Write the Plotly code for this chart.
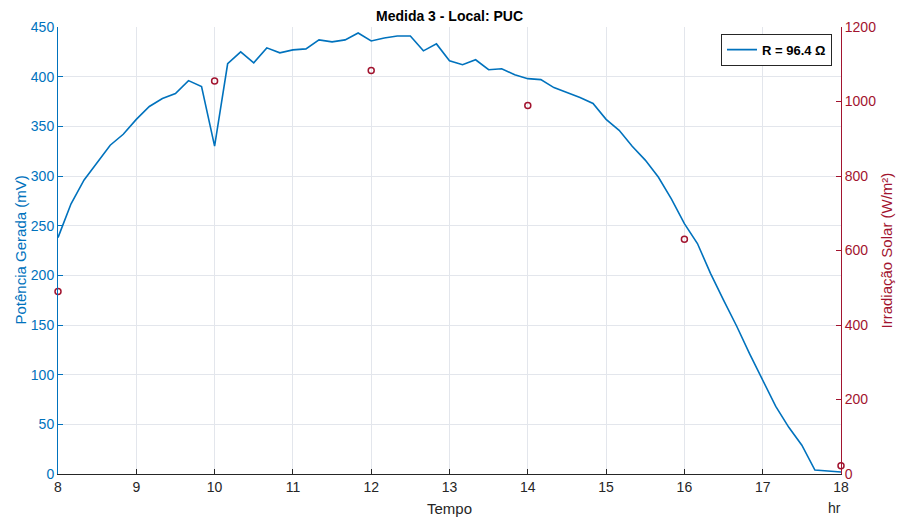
import plotly.graph_objects as go

# Power (mV) sampled every 10 minutes from 8:00 to 18:00
hours = [8 + i / 6 for i in range(61)]
power = [238, 272, 296, 313, 331, 342, 357, 370, 378, 383, 396, 390,
         330, 413, 425, 414, 429, 424, 427, 428, 437, 435, 437, 444,
         436, 439, 441, 441, 426, 433, 416, 412, 417, 407, 408, 402,
         398, 397, 389, 384, 379, 373, 357, 346, 330, 316, 299, 277,
         252, 232, 202, 175, 149, 121, 95, 68, 47, 29, 4, 3, 2]

irr_hours = [8, 10, 12, 14, 16, 18]
irradiance = [490, 1055, 1083, 989, 630, 22]

x_ticks = list(range(8, 19))

BLUE = "#0072BD"
RED = "#A2142F"
FONT = "Liberation Sans, Arial, Helvetica, sans-serif"

fig = go.Figure()
fig.add_trace(go.Scatter(x=hours, y=power, mode="lines",
                         line=dict(color=BLUE, width=1.6),
                         name="<b>R = 96.4 Ω</b>", yaxis="y"))
fig.add_trace(go.Scatter(x=irr_hours, y=irradiance, mode="markers",
                         marker=dict(symbol="circle-open", size=6,
                                     color=RED, line=dict(width=1.5)),
                         showlegend=False, yaxis="y2", cliponaxis=False))

fig.update_layout(
    width=901, height=518,
    margin=dict(l=58, r=60, t=27, b=44),
    paper_bgcolor="white", plot_bgcolor="white",
    font=dict(family=FONT, size=14, color="#262626"),
    showlegend=True,
    legend=dict(x=0.9885, y=0.985, xanchor="right", yanchor="top",
                bgcolor="white", bordercolor="#262626", borderwidth=1,
                font=dict(size=13, color="#000000"),
                itemwidth=30, tracegroupgap=0),
    xaxis=dict(range=[8, 18], tickvals=x_ticks, ticktext=[str(t) for t in x_ticks],
               ticks="inside", ticklen=5, tickcolor="#262626",
               showline=True, linecolor="#262626", linewidth=1,
               showgrid=True, gridcolor="#E3E6EC", gridwidth=1,
               zeroline=False, tickfont=dict(size=14, color="#262626")),
    yaxis=dict(range=[0, 450], dtick=50, ticks="inside", ticklen=5,
               tickcolor=BLUE, showline=True, linecolor=BLUE, linewidth=1,
               showgrid=True, gridcolor="#E3E6EC", gridwidth=1, zeroline=False,
               tickfont=dict(size=14, color=BLUE)),
    yaxis2=dict(range=[0, 1200], dtick=200, overlaying="y", side="right",
                ticks="inside", ticklen=5, tickcolor=RED, showline=True,
                linecolor=RED, linewidth=1, showgrid=False, zeroline=False,
                tickfont=dict(size=14, color=RED)),
    annotations=[
        dict(text="<b>Medida 3 - Local: PUC</b>", x=0.5, y=1, xref="paper", yref="paper",
             xanchor="center", yanchor="bottom", yshift=1, showarrow=False,
             font=dict(size=14, color="#000000")),
        dict(text="Tempo", x=0.5, y=0, xref="paper", yref="paper",
             xanchor="center", yanchor="top", yshift=-24, showarrow=False,
             font=dict(size=15, color="#262626")),
        dict(text="hr", x=1, y=0, xref="paper", yref="paper",
             xanchor="center", yanchor="top", yshift=-24, xshift=-7, showarrow=False,
             font=dict(size=14, color="#262626")),
        dict(text="Potência Gerada (mV)", x=0, y=0.5, xref="paper", yref="paper",
             xanchor="center", yanchor="middle", xshift=-38, textangle=-90,
             showarrow=False, font=dict(size=15, color=BLUE)),
        dict(text="Irradiação Solar (W/m²)", x=1, y=0.5, xref="paper", yref="paper",
             xanchor="center", yanchor="middle", xshift=45, textangle=-90,
             showarrow=False, font=dict(size=15, color=RED)),
    ],
)

fig.write_html("out.html")
